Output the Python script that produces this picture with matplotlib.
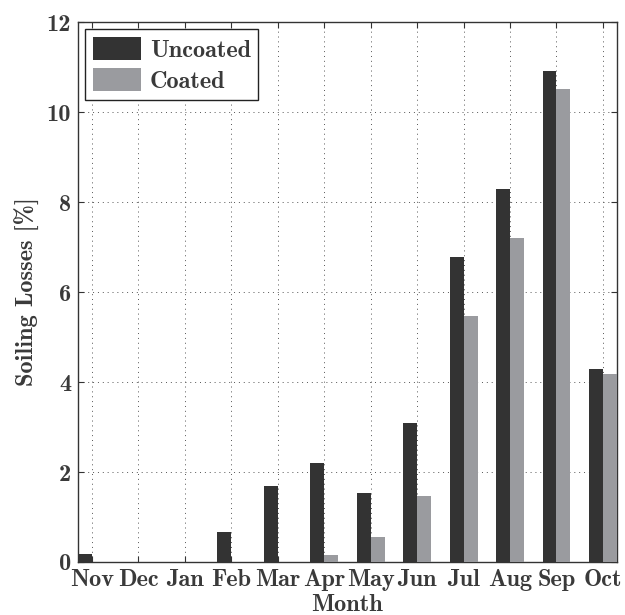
import numpy as np
import matplotlib
matplotlib.use('Agg')
import matplotlib.pyplot as plt

# soiling losses per month
months = ['Nov', 'Dec', 'Jan', 'Feb', 'Mar', 'Apr', 'May', 'Jun', 'Jul', 'Aug', 'Sep', 'Oct']
uncoated = [0.17, 0.0, 0.0, 0.66, 1.69, 2.19, 1.54, 3.09, 6.78, 8.29, 10.91, 4.29]
coated = [0.0, 0.0, 0.0, 0.0, 0.0, 0.16, 0.55, 1.46, 5.47, 7.20, 10.52, 4.17]

plt.rcParams['font.family'] = ['cmb10', 'DejaVu Serif']
plt.rcParams['axes.unicode_minus'] = False
txt = '#3a3a3a'

fig = plt.figure(figsize=(6.25, 6.15), dpi=100)
ax = fig.add_axes([0.1248, 0.0862, 0.8622, 0.8778])

x = np.arange(1, len(months) + 1)
w = 0.3
ax.bar(x - w / 2, uncoated, w, color='#333333', label='Uncoated', zorder=3)
ax.bar(x + w / 2, coated, w, color='#9a9b9f', label='Coated', zorder=3)

ax.set_xlim(0.7, 12.3)
ax.set_ylim(0, 12)
ax.set_xticks(x)
ax.set_xticklabels(months)
ax.set_yticks(np.arange(0, 13, 2))
ax.tick_params(direction='in', top=True, right=True, labelsize=17.5,
               colors='#333333', labelcolor=txt, length=4, width=0.8)
ax.tick_params(axis='x', pad=5)
ax.tick_params(axis='y', pad=5)
ax.grid(True, linestyle=(0, (1, 4)), color='#555555', linewidth=0.7, zorder=0)
for s in ax.spines.values():
    s.set_color('#333333')
    s.set_linewidth(1.0)

ax.set_ylabel('Soiling Losses [%]', fontsize=17.5, color=txt, labelpad=5)
ax.set_xlabel('Month', fontsize=17.5, color=txt, labelpad=2)

leg = ax.legend(loc='upper left', fontsize=17.5, fancybox=False, framealpha=1,
                edgecolor='#222222', handlelength=2.0, handleheight=1.1,
                borderaxespad=0.3, labelspacing=0.25, handletextpad=0.35,
                borderpad=0.3)
leg.get_frame().set_linewidth(1.0)
for t in leg.get_texts():
    t.set_color(txt)

fig.savefig('out.png', dpi=100)
